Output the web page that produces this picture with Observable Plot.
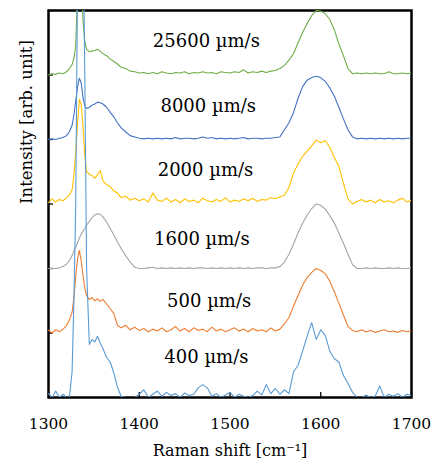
<!DOCTYPE html>
<html>
<head>
<meta charset="utf-8">
<script src="https://cdn.jsdelivr.net/npm/d3@7"></script>
<script src="https://cdn.jsdelivr.net/npm/@observablehq/plot@0.6"></script>
<style>
  html, body { margin: 0; padding: 0; background: white; }
</style>
</head>
<body>
<div id="chart"></div>
<script>
const wavenumbers = [
  1300,1304,1308,1312,1316,1320,1323,1326,1328,1330,1332,1334,1336,1338,1340,1342,1345,1348,1351,1354,1357,1360,1364,1368,1372,1376,1380,1385,1390,1395,1400,
  1405,1410,1415,1420,1425,1430,1435,1440,1445,1450,1455,1460,1465,1470,1475,1480,1485,1490,1495,1500,
  1505,1510,1515,1520,1525,1530,1535,1540,1545,1550,1555,1560,1565,1570,1575,1580,1585,1590,1595,1600,
  1605,1610,1615,1620,1625,1630,1635,1640,1645,1650,1655,1660,1665,1670,1675,1680,1685,1690,1695,1700
];

const v25600 = [
  0.00,0.02,0.01,0.03,0.02,0.05,0.10,0.16,0.26,0.45,1.30,1.75,1.50,0.85,0.52,0.40,0.36,0.37,0.38,0.40,0.37,0.33,0.30,0.25,0.21,0.17,0.12,0.10,0.06,0.05,0.03,
  0.04,0.02,0.04,0.02,0.05,0.03,0.02,0.04,0.03,0.05,0.02,0.04,0.03,0.05,0.03,0.04,0.02,0.05,0.04,0.03,
  0.05,0.04,0.08,0.03,0.05,0.04,0.06,0.04,0.06,0.07,0.10,0.15,0.23,0.33,0.50,0.66,0.80,0.92,1.00,0.99,
  0.95,0.86,0.70,0.48,0.30,0.10,0.02,0.03,0.02,0.03,0.02,0.03,0.02,0.02,0.05,0.02,0.02,0.03,0.02,0.03
];
const v8000 = [
  0.00,0.01,0.00,0.02,0.03,0.06,0.12,0.22,0.38,0.60,0.82,0.95,0.88,0.65,0.52,0.48,0.50,0.53,0.55,0.58,0.57,0.55,0.50,0.42,0.35,0.26,0.18,0.12,0.06,0.04,0.02,
  0.01,0.02,0.01,0.02,0.01,0.02,0.01,0.03,0.01,0.02,0.02,0.01,0.02,0.04,0.02,0.03,0.01,0.02,0.01,0.02,
  0.01,0.02,0.03,0.01,0.02,0.02,0.01,0.02,0.02,0.03,0.04,0.15,0.26,0.42,0.64,0.82,0.92,0.96,0.98,0.96,
  0.90,0.80,0.67,0.50,0.32,0.15,0.04,0.01,0.02,0.01,0.02,0.01,0.02,0.01,0.02,0.01,0.02,0.01,0.02,0.02
];
const v2000 = [
  0.02,0.08,0.03,0.07,0.05,0.10,0.14,0.22,0.45,0.80,1.25,1.62,1.55,1.20,0.75,0.50,0.46,0.44,0.40,0.45,0.52,0.36,0.30,0.27,0.20,0.17,0.10,0.12,0.06,0.09,0.05,
  0.08,0.03,0.17,0.06,0.04,0.09,0.03,0.07,0.02,0.08,0.04,0.06,0.02,0.09,0.05,0.03,0.07,0.04,0.10,0.03,
  0.06,0.04,0.08,0.05,0.09,0.04,0.07,0.06,0.10,0.08,0.11,0.14,0.26,0.48,0.62,0.74,0.82,0.90,0.99,0.95,
  0.98,0.88,0.72,0.58,0.32,0.08,0.00,0.04,0.07,0.03,0.06,0.02,0.07,0.03,0.05,0.02,0.06,0.09,0.03,0.06
];
const v1600 = [
  0.00,0.00,0.00,0.01,0.03,0.07,0.12,0.20,0.27,0.33,0.40,0.47,0.53,0.58,0.62,0.67,0.73,0.79,0.83,0.85,0.84,0.80,0.72,0.62,0.52,0.41,0.31,0.20,0.10,0.02,0.00,
  0.00,0.01,0.02,0.00,0.01,0.00,0.01,0.00,0.01,0.00,0.01,0.00,0.01,0.01,0.00,0.01,0.00,0.01,0.00,0.01,
  0.00,0.01,0.00,0.01,0.00,0.01,0.01,0.00,0.01,0.01,0.03,0.10,0.22,0.38,0.55,0.70,0.83,0.93,1.00,0.98,
  0.92,0.82,0.70,0.55,0.39,0.22,0.06,0.00,0.00,0.01,0.00,0.01,0.00,0.00,0.01,0.00,0.01,0.00,0.00,0.01
];
const v500 = [
  0.04,0.00,0.05,0.02,0.06,0.12,0.20,0.32,0.55,0.88,1.15,1.28,1.12,0.90,0.70,0.58,0.52,0.55,0.50,0.53,0.49,0.52,0.45,0.38,0.30,0.12,0.08,0.12,0.05,0.09,0.04,
  0.07,0.02,0.06,0.03,0.08,0.02,0.05,0.10,0.03,0.07,0.02,0.08,0.04,0.06,0.02,0.09,0.03,0.06,0.02,0.05,
  0.08,0.03,0.06,0.02,0.07,0.03,0.05,0.02,0.08,0.03,0.06,0.14,0.24,0.42,0.58,0.74,0.86,0.94,1.00,0.97,
  0.92,0.80,0.64,0.46,0.28,0.10,0.04,0.02,0.05,0.02,0.04,0.01,0.03,0.05,0.02,0.03,0.01,0.04,0.02,0.03
];
const v400 = [
  0.06,0.00,0.10,0.00,0.05,0.00,0.00,0.40,1.50,3.00,6.50,9.00,9.00,7.50,5.00,2.00,0.82,0.90,0.86,0.95,0.84,0.76,0.62,0.55,0.38,0.16,0.02,0.00,0.00,0.00,0.05,
  0.12,0.00,0.05,0.10,0.02,0.08,0.03,0.06,0.00,0.07,0.03,0.05,0.15,0.20,0.15,0.02,0.06,0.00,0.04,0.08,
  0.00,0.05,0.02,0.00,0.03,0.10,0.04,0.20,0.06,0.14,0.05,0.12,0.06,0.40,0.50,0.72,0.95,1.16,0.90,1.05,
  0.96,0.72,0.60,0.55,0.34,0.22,0.08,0.00,0.00,0.04,0.00,0.02,0.18,0.00,0.05,0.02,0.06,0.00,0.05,0.03
];

const seriesNames = ["25600 µm/s", "8000 µm/s", "2000 µm/s", "1600 µm/s", "500 µm/s", "400 µm/s"];
const seriesValues = [v25600, v8000, v2000, v1600, v500, v400];
const offsets = [5, 4, 3, 2, 1, 0];
const colors = ["#70AD47", "#4472C4", "#FFC000", "#A5A5A5", "#ED7D31", "#5B9BD5"];
const labelX = [1474, 1476, 1473, 1469, 1477, 1474];
const labelY = [5.43, 4.42, 3.44, 2.36, 1.40, 0.53];

const xTicks = [1300, 1400, 1500, 1600, 1700];
const yTicks = [0, 1, 2, 3, 4, 5, 6];
const xLabel = "Raman shift [cm⁻¹]";
const yLabel = "Intensity [arb. unit]";

const W = 435, H = 461;
const mL = 48, mR = 24, mT = 10, mB = 64;

const lineMarks = seriesValues.map((vals, i) =>
  Plot.line(wavenumbers.map((x, j) => ({x, y: vals[j] + offsets[i]})), {
    x: "x", y: "y", stroke: colors[i], strokeWidth: 1.1, clip: true
  })
);

const labels = seriesNames.map((name, i) => ({name, x: labelX[i], y: labelY[i]}));

const chart = Plot.plot({
  width: W, height: H,
  marginLeft: mL, marginRight: mR, marginTop: mT, marginBottom: mB,
  x: {domain: [1300, 1700], axis: null},
  y: {domain: [0, 6], axis: null},
  style: {fontFamily: "'DejaVu Serif', serif", background: "white", color: "black"},
  marks: [
    Plot.frame({stroke: "black", strokeWidth: 2.5}),
    Plot.tickX(xTicks, {x: d => d, stroke: "black", strokeWidth: 1.3, insetTop: (H - mT - mB) - 5}),
    Plot.tickY(yTicks, {y: d => d, stroke: "black", strokeWidth: 1.3, insetRight: (W - mL - mR) - 5}),
    ...lineMarks,
    Plot.text(labels, {x: "x", y: "y", text: "name", fontSize: 18, textAnchor: "middle", lineAnchor: "bottom", fill: "black"}),
    Plot.text(xTicks, {x: d => d, text: d => String(d), frameAnchor: "bottom", dy: 31, lineAnchor: "bottom", fontSize: 15.5, fill: "black"}),
    Plot.text([xLabel], {text: d => d, frameAnchor: "bottom", dy: 58, lineAnchor: "bottom", fontSize: 16, fill: "black"}),
    Plot.text([yLabel], {text: d => d, frameAnchor: "left", dx: -22, rotate: -90, lineAnchor: "middle", fontSize: 16.5, fill: "black"})
  ]
});

document.getElementById("chart").appendChild(chart);
</script>
</body>
</html>
